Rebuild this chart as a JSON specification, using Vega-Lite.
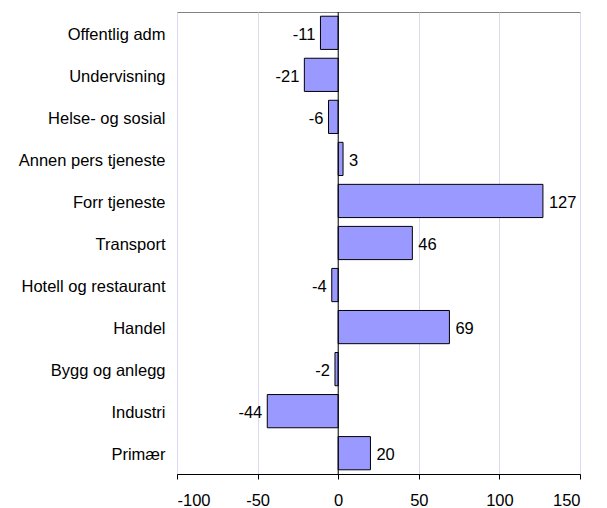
{
  "$schema": "https://vega.github.io/schema/vega-lite/v6.json",
  "autosize": {"type": "none"},
  "padding": {"left": 177, "top": 12, "right": 27, "bottom": 34},
  "width": 403,
  "height": 462,
  "config": {
    "font": "Liberation Sans",
    "view": {"stroke": "#808080", "strokeWidth": 1},
    "axis": {"labelFont": "Liberation Sans", "labelFontSize": 16.5, "labelColor": "#000000"}
  },
  "data": {
    "values": [
      {"sector": "Offentlig adm", "value": -11},
      {"sector": "Undervisning", "value": -21},
      {"sector": "Helse- og sosial", "value": -6},
      {"sector": "Annen pers tjeneste", "value": 3},
      {"sector": "Forr tjeneste", "value": 127},
      {"sector": "Transport", "value": 46},
      {"sector": "Hotell og restaurant", "value": -4},
      {"sector": "Handel", "value": 69},
      {"sector": "Bygg og anlegg", "value": -2},
      {"sector": "Industri", "value": -44},
      {"sector": "Primær", "value": 20}
    ]
  },
  "encoding": {
    "y": {
      "field": "sector", "type": "nominal", "sort": null, "title": null,
      "scale": {"paddingInner": 0.21, "paddingOuter": 0.1},
      "axis": {"ticks": false, "domain": false, "labelPadding": 12, "labelOffset": 2, "grid": false}
    }
  },
  "layer": [
    {
      "mark": {"type": "bar", "fill": "#9999FF", "stroke": "#000000", "strokeWidth": 1},
      "encoding": {
        "x": {
          "field": "value", "type": "quantitative", "title": null,
          "scale": {"domain": [-100, 150], "nice": false},
          "axis": {
            "values": [-100, -50, 0, 50, 100, 150],
            "labelExpr": "'' + datum.value",
            "grid": true, "gridColor": "#DADAF2", "gridOpacity": 1,
            "domainColor": "#000000", "tickColor": "#000000", "tickSize": 5,
            "labelPadding": 13
          }
        }
      }
    },
    {
      "mark": {"type": "rule", "color": "#000000", "strokeWidth": 1},
      "data": {"values": [{"zero": 0}]},
      "encoding": {"x": {"field": "zero", "type": "quantitative"}, "y": null}
    },
    {
      "transform": [{"filter": "datum.value >= 0"}],
      "mark": {"type": "text", "align": "left", "dx": 6, "dy": 2, "fontSize": 16.5, "color": "#000000"},
      "encoding": {
        "x": {"field": "value", "type": "quantitative"},
        "text": {"field": "value", "type": "nominal"}
      }
    },
    {
      "transform": [{"filter": "datum.value < 0"}],
      "mark": {"type": "text", "align": "right", "dx": -5, "dy": 2, "fontSize": 16.5, "color": "#000000"},
      "encoding": {
        "x": {"field": "value", "type": "quantitative"},
        "text": {"field": "value", "type": "nominal"}
      }
    }
  ]
}
